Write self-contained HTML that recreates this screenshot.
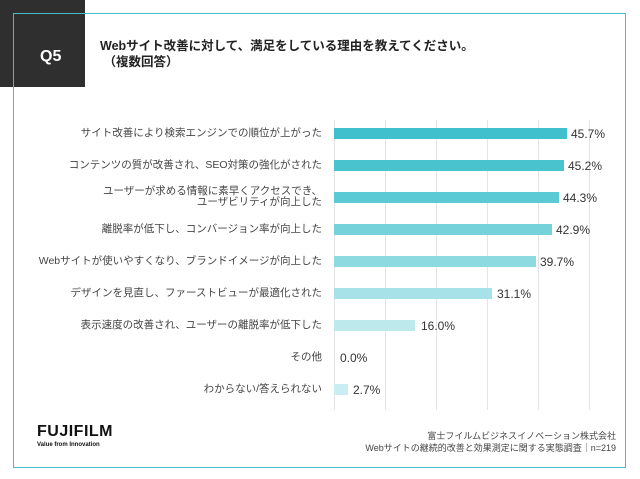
<!DOCTYPE html>
<html><head><meta charset="utf-8"><style>
body{margin:0;width:640px;height:479px;background:#fff;position:relative;overflow:hidden;font-family:"Liberation Sans","Noto Sans CJK JP",sans-serif;color:#333}
.dark{position:absolute;left:0;top:0;width:85px;height:87px;background:#2f2f2f}
.frame{position:absolute;left:13px;top:13px;width:613px;height:455px;border:1.5px solid #45bcc6;box-sizing:border-box;z-index:2}
.q{position:absolute;left:40px;top:48px;color:#fff;font-size:16px;font-weight:bold;z-index:3}
.t{position:absolute;left:100px;top:38px;font-size:12.5px;line-height:16px;color:#222;font-weight:bold}
.lab{position:absolute;right:318px;font-size:10.5px;line-height:11px;text-align:right;color:#444;white-space:nowrap}
.bar{position:absolute;left:334px;height:11px}
.val{position:absolute;font-size:12px;color:#333}
.g{position:absolute;top:120px;height:290px;width:1px;background:#e4e4e4}
.foot{position:absolute;right:24px;top:430px;font-size:9px;line-height:12px;text-align:right;color:#444}
.logo{position:absolute;left:37px;top:423px;font-size:16px;font-weight:bold;color:#111;letter-spacing:0.5px}
.logo2{position:absolute;left:37px;top:442px;font-size:6px;font-weight:bold;color:#111}
</style></head><body>
<div class="dark"></div>
<div class="frame"></div>
<div class="q">Q5</div>
<div class="t">Webサイト改善に対して、満足をしている理由を教えてください。<br>&nbsp;（複数回答）</div>
<div class="g" style="left:334px"></div><div class="g" style="left:385px"></div><div class="g" style="left:436px"></div><div class="g" style="left:487px"></div><div class="g" style="left:538px"></div><div class="g" style="left:589px"></div>

<div class="lab" style="top:128px">サイト改善により検索エンジンでの順位が上がった</div>
<div class="lab" style="top:160px">コンテンツの質が改善され、SEO対策の強化がされた</div>
<div class="lab" style="top:186px">ユーザーが求める情報に素早くアクセスでき、<br>ユーザビリティが向上した</div>
<div class="lab" style="top:224px">離脱率が低下し、コンバージョン率が向上した</div>
<div class="lab" style="top:256px">Webサイトが使いやすくなり、ブランドイメージが向上した</div>
<div class="lab" style="top:288px">デザインを見直し、ファーストビューが最適化された</div>
<div class="lab" style="top:320px">表示速度の改善され、ユーザーの離脱率が低下した</div>
<div class="lab" style="top:352px">その他</div>
<div class="lab" style="top:384px">わからない/答えられない</div>

<div class="bar" style="top:128px;width:233px;background:#3fc0cc"></div><div class="val" style="left:571px;top:127px">45.7%</div>
<div class="bar" style="top:160px;width:230px;background:#49c4cf"></div><div class="val" style="left:568px;top:159px">45.2%</div>
<div class="bar" style="top:192px;width:225px;background:#5ccad4"></div><div class="val" style="left:563px;top:191px">44.3%</div>
<div class="bar" style="top:224px;width:218px;background:#75d2da"></div><div class="val" style="left:556px;top:223px">42.9%</div>
<div class="bar" style="top:256px;width:202px;background:#8ddae1"></div><div class="val" style="left:540px;top:255px">39.7%</div>
<div class="bar" style="top:288px;width:158px;background:#a6e2e7"></div><div class="val" style="left:497px;top:287px">31.1%</div>
<div class="bar" style="top:320px;width:81px;background:#bde9ed"></div><div class="val" style="left:421px;top:319px">16.0%</div>
<div class="val" style="left:340px;top:351px">0.0%</div>
<div class="bar" style="top:384px;width:14px;background:#c9edf0"></div><div class="val" style="left:353px;top:383px">2.7%</div>

<div class="logo">FUJIFILM</div>
<div class="logo2">Value from Innovation</div>
<div class="foot">富士フイルムビジネスイノベーション株式会社<br>Webサイトの継続的改善と効果測定に関する実態調査｜n=219</div>
</body></html>
